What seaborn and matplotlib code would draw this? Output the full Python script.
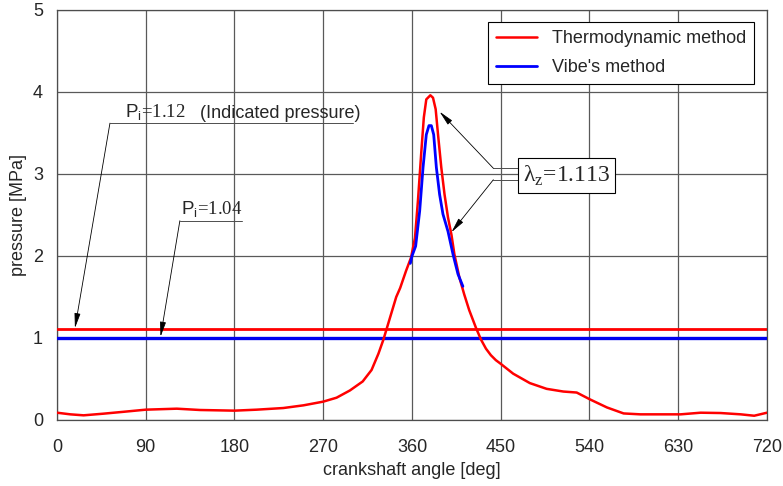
import matplotlib
matplotlib.use('Agg')
import matplotlib.pyplot as plt
import seaborn as sns

# crank angle [deg] and cylinder pressure [MPa]
angle_thermo = [0, 13.5, 27, 47, 67.5, 90, 121.5, 145, 180, 202.5, 229.5, 250, 270, 283.5,
                297, 310, 319, 326, 331, 336, 344, 348, 354, 359, 363, 366, 369.5, 372,
                374.5, 378.6, 381.3, 384, 386.4, 389.7, 393, 396.5, 400, 403, 408, 413,
                418, 425, 430, 435, 440, 445, 450, 462.6, 479.5, 496.5, 513.5, 527, 540.7,
                557.7, 574.6, 591.6, 632.4, 652.7, 673, 693.4, 707, 720]
p_thermo = [0.089, 0.069, 0.057, 0.077, 0.10, 0.126, 0.138, 0.122, 0.114, 0.126, 0.146,
            0.179, 0.224, 0.272, 0.36, 0.47, 0.61, 0.81, 0.98, 1.18, 1.50, 1.61, 1.82,
            1.98, 2.22, 2.67, 3.28, 3.69, 3.91, 3.96, 3.93, 3.79, 3.48, 3.08, 2.75, 2.47,
            2.26, 2.02, 1.74, 1.53, 1.34, 1.12, 0.98, 0.87, 0.79, 0.73, 0.685, 0.565, 0.45,
            0.38, 0.347, 0.335, 0.25, 0.153, 0.08, 0.069, 0.069, 0.089, 0.085, 0.069, 0.052,
            0.089]

angle_vibe = [358.3, 360, 363.7, 367.8, 371.2, 374.5, 377.2, 379.6, 382, 384.7, 388,
              391.4, 396.5, 401.6, 406.6, 411.6]
p_vibe = [1.91, 2.0, 2.12, 2.55, 3.08, 3.48, 3.59, 3.59, 3.48, 3.08, 2.75, 2.51, 2.30,
          2.02, 1.78, 1.63]

pi_thermo = 1.11   # drawn level of the indicated pressure lines
pi_vibe = 1.005
labels = ['Thermodynamic method', "Vibe's method"]
x_ticks = [0, 90, 180, 270, 360, 450, 540, 630, 720]
y_ticks = [0, 1, 2, 3, 4, 5]

sns.set_style('whitegrid')
plt.rcParams['font.family'] = ['Liberation Sans', 'DejaVu Sans']
plt.rcParams['mathtext.fontset'] = 'custom'
plt.rcParams['mathtext.rm'] = 'Liberation Serif'
plt.rcParams['mathtext.sf'] = 'Liberation Sans'

fig = plt.figure(figsize=(7.83, 4.86), dpi=100)
ax = fig.add_axes([57 / 783, 1 - 420 / 486, 710 / 783, 410 / 486])

ax.axhline(pi_thermo, color='red', lw=2.0, zorder=3)
ax.axhline(pi_vibe, color='#0000ee', lw=2.4, zorder=3)
sns.lineplot(x=angle_thermo, y=p_thermo, color='red', lw=1.8, label=labels[0], ax=ax, zorder=4)
sns.lineplot(x=angle_vibe, y=p_vibe, color='blue', lw=2.0, label=labels[1], ax=ax, zorder=5)

ax.set_xlim(0, 720)
ax.set_ylim(0, 5)
ax.set_xticks(x_ticks)
ax.set_yticks(y_ticks)
ax.grid(True, color='0.35', lw=0.9)
for s in ax.spines.values():
    s.set_color('0.3')
    s.set_linewidth(0.9)
ax.tick_params(direction='out', length=5, width=0.8, color='0.3', labelsize=13)
ax.tick_params(axis='x', pad=9)
ax.tick_params(axis='y', pad=5)
ax.set_xlabel('crankshaft angle [deg]', fontsize=13, labelpad=4)
ax.set_ylabel('pressure [MPa]', fontsize=13, labelpad=4)

leg = ax.legend(loc='upper right', bbox_to_anchor=(0.9817, 0.9707), borderaxespad=0,
                fontsize=13, fancybox=False, framealpha=1, edgecolor='black',
                handlelength=2.3, handletextpad=0.8, labelspacing=0.65, borderpad=0.45)
leg.get_frame().set_linewidth(0.8)

arrow = dict(arrowstyle='-|>,head_length=0.9,head_width=0.18', color='black', lw=0.6,
             shrinkA=0, shrinkB=0)

# indicated pressure labels with leader lines
ax.text(69, 3.64, r'$\mathsf{P_i}$=1.12', family='Liberation Serif', fontsize=13.5, va='bottom')
ax.text(145, 3.64, '(Indicated pressure)', fontsize=13, va='bottom')
ax.plot([53.7, 300], [3.62, 3.62], color='0.3', lw=0.7)
ax.annotate('', xy=(18.2, pi_thermo + 0.01), xytext=(53.7, 3.62), arrowprops=arrow)

ax.text(126, 2.45, r'$\mathsf{P_i}$=1.04', family='Liberation Serif', fontsize=13.5, va='bottom')
ax.plot([124.6, 188], [2.43, 2.43], color='0.3', lw=0.7)
ax.annotate('', xy=(105, pi_vibe + 0.01), xytext=(124.6, 2.43), arrowprops=arrow)

# lambda_z box with two leaders
ax.text(516.5, 2.98, r'λ$_\mathrm{z}$=1.113', family='Liberation Serif', fontsize=17,
        ha='center', va='center', zorder=6,
        bbox=dict(boxstyle='square,pad=0.22', fc='white', ec='black', lw=0.8))
ax.plot([442.5, 470], [3.07, 3.07], color='0.3', lw=0.7)
ax.plot([442.5, 470], [2.93, 2.93], color='0.3', lw=0.7)
ax.annotate('', xy=(388, 3.76), xytext=(442.5, 3.07), arrowprops=arrow)
ax.annotate('', xy=(400, 2.29), xytext=(442.5, 2.93), arrowprops=arrow)

fig.savefig('out.png', dpi=100)
plt.close(fig)
